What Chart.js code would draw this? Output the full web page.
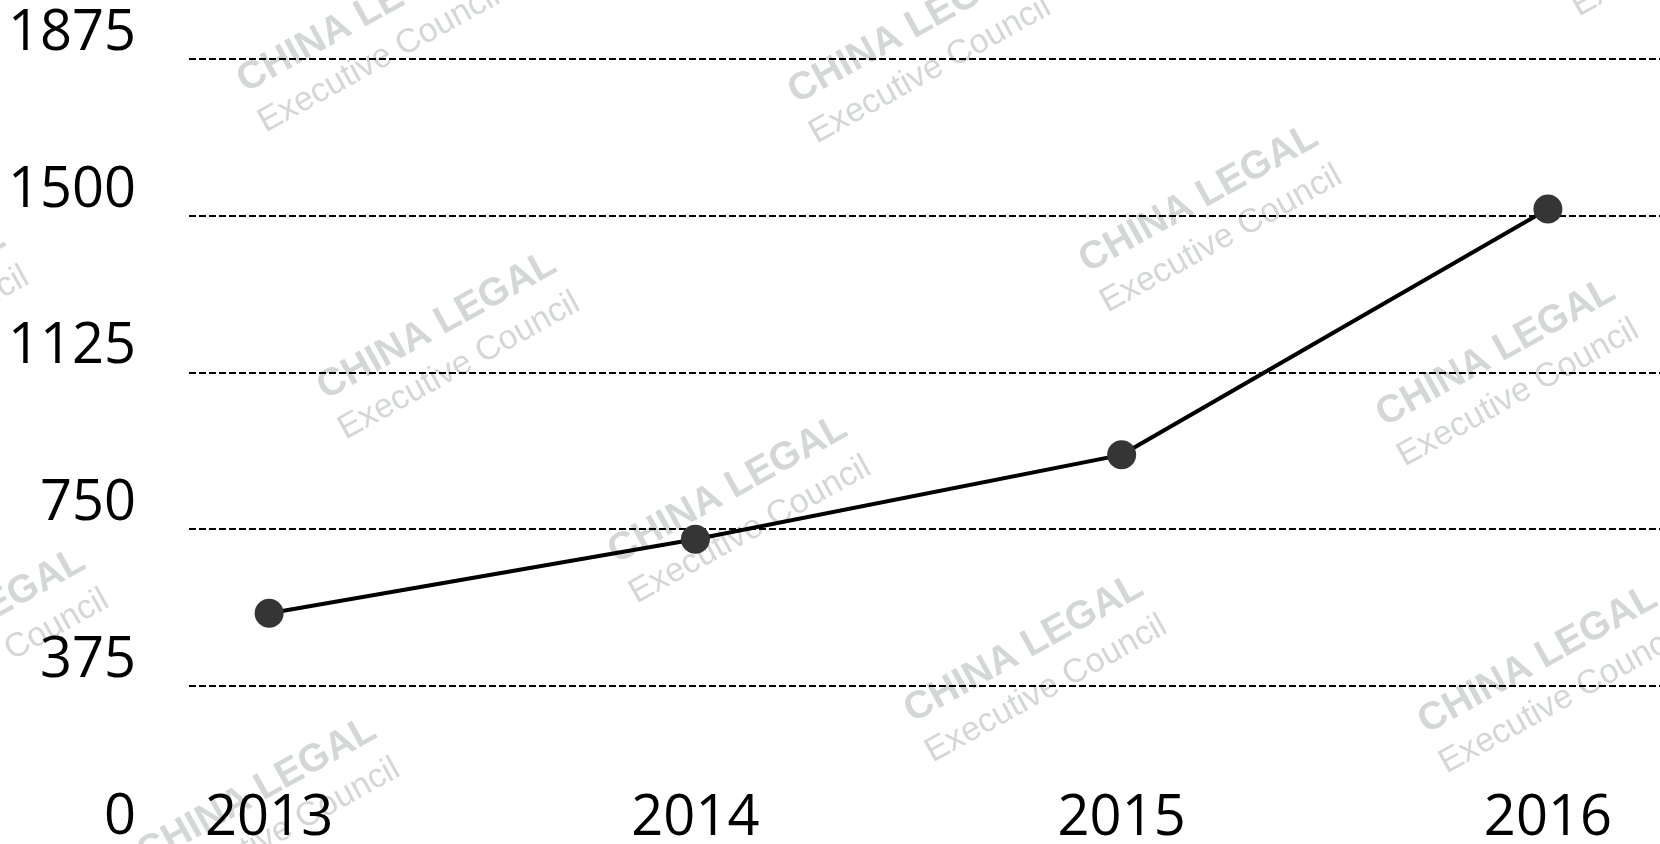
<!DOCTYPE html>
<html>
<head>
<meta charset="utf-8">
<script src="https://cdn.jsdelivr.net/npm/chart.js@4/dist/chart.umd.min.js"></script>
<style>
  html, body { margin: 0; padding: 0; background: #ffffff; }
  #wrap { width: 1660px; height: 844px; position: relative; }
</style>
</head>
<body>
<div id="wrap"><canvas id="c"></canvas></div>
<script>
const years = [2013, 2014, 2015, 2016];
const values = [549, 726, 928, 1516];
const yTicks = [0, 375, 750, 1125, 1500, 1875];

const watermarkLines = ["CHINA LEGAL", "Executive Council"];
const watermarkSpots = [
  [368, 39], [919, 50], [1681, -77], [1210, 219], [448, 346], [1507, 373],
  [739, 510], [1035, 669], [1549, 680], [268, 812], [-23, 643], [-103, 320]
];

const watermark = {
  id: 'watermark',
  beforeDraw(chart) {
    const ctx = chart.ctx;
    ctx.save();
    ctx.fillStyle = '#d4d7d7';
    ctx.textAlign = 'center';
    ctx.textBaseline = 'middle';
    watermarkSpots.forEach(([x, y]) => {
      ctx.save();
      ctx.translate(x, y);
      ctx.rotate(-29 * Math.PI / 180);
      ctx.font = 'bold 39px "Liberation Sans", Arial, sans-serif';
      ctx.fillText(watermarkLines[0], 0, -23);
      ctx.font = '34px "Liberation Sans", Arial, sans-serif';
      ctx.fillText(watermarkLines[1], 0, 23);
      ctx.restore();
    });
    ctx.restore();
  }
};

new Chart(document.getElementById('c'), {
  type: 'line',
  data: {
    datasets: [{
      data: years.map((y, i) => ({ x: y, y: values[i] })),
      borderColor: '#000000',
      borderWidth: 4,
      tension: 0,
      pointRadius: 14.5,
      pointHoverRadius: 14.5,
      pointBackgroundColor: '#353535',
      pointBorderWidth: 0
    }]
  },
  options: {
    responsive: true,
    maintainAspectRatio: false,
    animation: false,
    layout: { autoPadding: false, padding: { top: 59, left: 0, right: 0, bottom: 0 } },
    plugins: { legend: { display: false }, tooltip: { enabled: false } },
    scales: {
      x: {
        type: 'linear',
        min: 2012.812,
        max: 2016.263,
        afterBuildTicks: s => { s.ticks = years.map(v => ({ value: v })); },
        afterFit: s => { s.height = 1.25; s.paddingLeft = 0; s.paddingRight = 0; },
        grid: { display: false, drawTicks: false },
        border: { display: false },
        ticks: {
          autoSkip: false,
          maxRotation: 0,
          mirror: true,
          padding: -10,
          color: '#000000',
          font: { family: '"Open Sans", "Noto Sans", sans-serif', size: 56 },
          callback: v => String(v)
        }
      },
      y: {
        min: 0,
        max: 1875,
        afterBuildTicks: s => { s.ticks = yTicks.map(v => ({ value: v })); },
        afterFit: s => { s.width = 189; s.paddingTop = 0; s.paddingBottom = 0; },
        border: { display: false, dash: [7, 3] },
        grid: {
          drawTicks: false,
          lineWidth: 2,
          color: c => (c.tick && c.tick.value === 0) ? 'rgba(0,0,0,0)' : '#000000'
        },
        ticks: {
          padding: 53,
          labelOffset: -25,
          color: '#000000',
          font: { family: '"Open Sans", "Noto Sans", sans-serif', size: 56 },
          callback: v => String(v)
        }
      }
    }
  },
  plugins: [watermark]
});
</script>
</body>
</html>
